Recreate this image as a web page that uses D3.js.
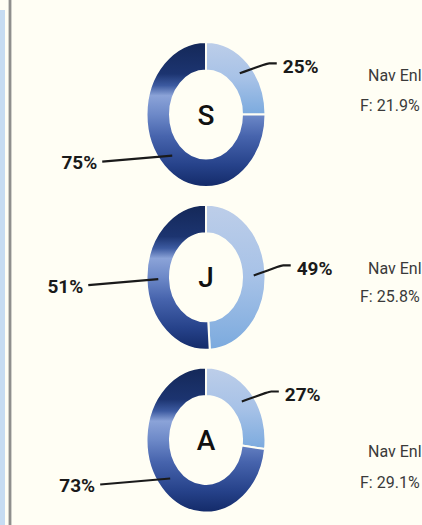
<!DOCTYPE html>
<html>
<head>
<meta charset="utf-8">
<script src="https://cdn.jsdelivr.net/npm/d3@7"></script>
<style>
  html, body { margin: 0; padding: 0; background: #fffef4; overflow: hidden; }
  svg { display: block; }
</style>
</head>
<body>
<svg id="chart" width="422" height="525"></svg>
<script>
// chart data
var letters = ["S", "J", "A"];
var lightShare = [25, 49, 27];
var darkShare = [75, 51, 73];
var sideTitle = "Nav Enl";
var femaleShare = ["21.9%", "25.8%", "29.1%"];

// layout
var sideTitleY = [75, 268, 451];
var sideValueY = [105, 296, 482];

var svg = d3.select("#chart");
var width = +svg.attr("width");
var height = +svg.attr("height");

var cx = 206;
var yScale = d3.scalePoint()
    .domain(letters)
    .range([114.5, 440]);

var rOuter = 59.5, rInner = 36, squash = 1.22;

var font = "Roboto, 'Noto Sans', sans-serif";

// background + left frame
svg.append("rect").attr("width", width).attr("height", height).attr("fill", "#fffef4");
svg.append("rect").attr("x", 0).attr("y", 10).attr("width", 5).attr("height", height - 10).attr("fill", "#c6dcf2");
svg.append("rect").attr("x", 8.5).attr("y", 0).attr("width", 3).attr("height", height).attr("fill", "#a3a3a0");
svg.append("rect").attr("x", 9.5).attr("y", 0).attr("width", 1).attr("height", height).attr("fill", "#7d7d7a");

// gradients
var defs = svg.append("defs");
var darkGrad = defs.append("linearGradient")
    .attr("id", "darkGrad")
    .attr("x1", 0).attr("y1", 0).attr("x2", 0).attr("y2", 1);
[[0, "#142858"], [0.22, "#1c3470"], [0.3, "#3c5aa0"], [0.37, "#8ba3d8"],
 [0.5, "#6d89c8"], [0.65, "#4764ad"], [0.85, "#26428a"], [1, "#132a68"]]
    .forEach(function (s) {
        darkGrad.append("stop").attr("offset", s[0]).attr("stop-color", s[1]);
    });

var lightGrad = defs.append("linearGradient")
    .attr("id", "lightGrad")
    .attr("x1", 0).attr("y1", 0).attr("x2", 0).attr("y2", 1);
[[0, "#bdcee9"], [0.5, "#a7c2e7"], [1, "#7baade"]]
    .forEach(function (s) {
        lightGrad.append("stop").attr("offset", s[0]).attr("stop-color", s[1]);
    });

var pie = d3.pie().sort(null).value(function (d) { return d; });
var arc = d3.arc().innerRadius(rInner).outerRadius(rOuter);

letters.forEach(function (letter, i) {
    var cy = yScale(letter);
    var slices = pie([lightShare[i], darkShare[i]]);

    var donut = svg.append("g")
        .attr("transform", "translate(" + cx + "," + cy + ") scale(1," + squash + ")");

    donut.selectAll("path")
        .data(slices)
        .enter()
        .append("path")
        .attr("d", arc)
        .attr("fill", function (d, j) { return j === 0 ? "url(#lightGrad)" : "url(#darkGrad)"; })
        .attr("stroke", "#fffef4")
        .attr("stroke-width", 2)
        .attr("vector-effect", "non-scaling-stroke");

    svg.append("text")
        .attr("x", cx)
        .attr("y", cy)
        .attr("dy", "0.36em")
        .attr("text-anchor", "middle")
        .attr("font-family", font)
        .attr("font-weight", 500)
        .attr("font-size", "28px")
        .attr("fill", "#111")
        .text(letter);

    // leader lines + labels
    slices.forEach(function (d, j) {
        var c = arc.centroid(d);
        var px = cx + c[0], py = cy + c[1] * squash;
        var pts, tx, ty, anchor;
        if (j === 0) {
            pts = [[px, py], [px + 28, py - 10], [px + 28, py - 10], [px + 37, py - 10]];
            tx = px + 43; ty = py - 7; anchor = "start";
        } else {
            pts = [[px, py], [px - 70, py + 6]];
            tx = px - 75; ty = py + 7; anchor = "end";
        }
        svg.append("path")
            .attr("d", d3.line().curve(d3.curveBasis)(pts))
            .attr("fill", "none")
            .attr("stroke", "#1a1a1a")
            .attr("stroke-width", 2.2);
        svg.append("text")
            .attr("x", tx)
            .attr("y", ty)
            .attr("dy", "0.35em")
            .attr("text-anchor", anchor)
            .attr("font-family", font)
            .attr("font-weight", "bold")
            .attr("font-size", "19px")
            .attr("fill", "#1a1a1a")
            .text(d.data + "%");
    });

    // side notes
    svg.append("text")
        .attr("x", 368)
        .attr("y", sideTitleY[i])
        .attr("dy", "0.35em")
        .attr("font-family", font)
        .attr("font-size", "16px")
        .attr("fill", "#3a3a3a")
        .text(sideTitle);
    svg.append("text")
        .attr("x", 360)
        .attr("y", sideValueY[i])
        .attr("dy", "0.35em")
        .attr("font-family", font)
        .attr("font-size", "16px")
        .attr("fill", "#3a3a3a")
        .text("F: " + femaleShare[i]);
});
</script>
</body>
</html>
